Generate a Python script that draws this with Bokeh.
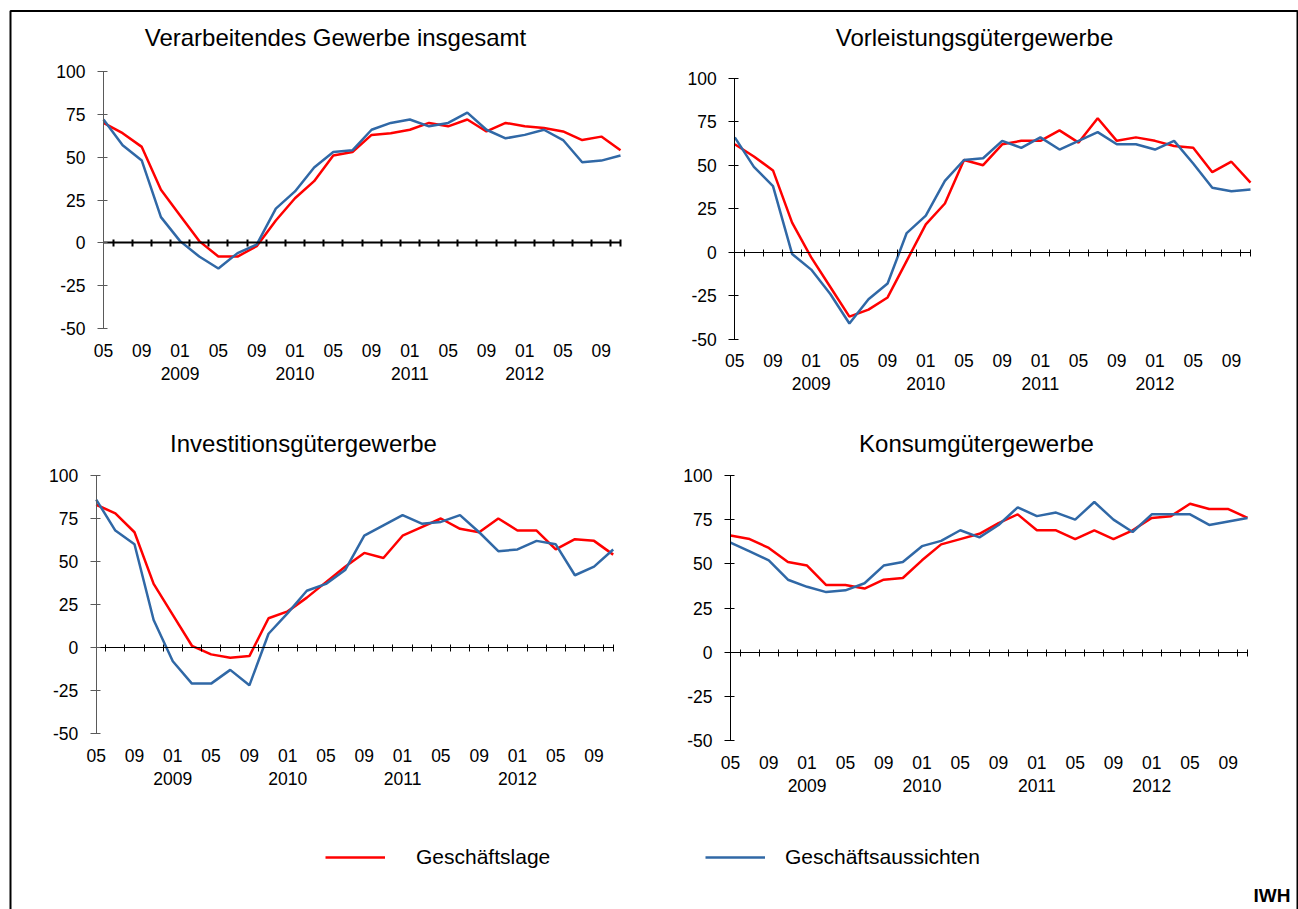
from bokeh.plotting import figure
from bokeh.models import (FixedTicker, LinearAxis, Range1d, Legend, LegendItem,
                          Label, BoxAnnotation)
from bokeh.embed import file_html
from bokeh.resources import INLINE

# ---------------- data ----------------
periods = ["2008-05", "2008-07", "2008-09", "2008-11",
           "2009-01", "2009-03", "2009-05", "2009-07", "2009-09", "2009-11",
           "2010-01", "2010-03", "2010-05", "2010-07", "2010-09", "2010-11",
           "2011-01", "2011-03", "2011-05", "2011-07", "2011-09", "2011-11",
           "2012-01", "2012-03", "2012-05", "2012-07", "2012-09", "2012-11"]

titles = ["Verarbeitendes Gewerbe insgesamt", "Vorleistungsgütergewerbe",
          "Investitionsgütergewerbe", "Konsumgütergewerbe"]

series_names = ["Geschäftslage", "Geschäftsaussichten"]

gesamt_lage = [70, 64, 56, 31, 16, 1, -8, -8, -2, 13, 26, 36, 51, 53, 63, 64,
               66, 70, 68, 72, 65, 70, 68, 67, 65, 60, 62, 54]
gesamt_aussichten = [72, 57, 48, 15, 1, -8, -15, -6, -1, 20, 30, 44, 53, 54, 66, 70,
                     72, 68, 70, 76, 66, 61, 63, 66, 60, 47, 48, 51]

vorleistung_lage = [62, 55, 47, 17, -3, -20, -37, -33, -26, -5, 16, 28, 53, 50, 62, 64,
                    64, 70, 63, 77, 64, 66, 64, 61, 60, 46, 52, 40]
vorleistung_aussichten = [66, 49, 38, -1, -10, -24, -41, -27, -18, 11, 21, 41, 53, 54, 64, 60,
                          66, 59, 64, 69, 62, 62, 59, 64, 51, 37, 35, 36]

investition_lage = [83, 78, 67, 37, 19, 1, -4, -6, -5, 17, 21, 29, 38, 47, 55, 52,
                    65, 70, 75, 69, 67, 75, 68, 68, 57, 63, 62, 54]
investition_aussichten = [86, 68, 60, 16, -8, -21, -21, -13, -22, 8, 20, 33, 37, 45, 65, 71,
                          77, 72, 73, 77, 67, 56, 57, 62, 60, 42, 47, 57]

konsum_lage = [66, 64, 59, 51, 49, 38, 38, 36, 41, 42, 52, 61, 64, 67, 73, 78,
               69, 69, 64, 69, 64, 69, 76, 77, 84, 81, 81, 76]
konsum_aussichten = [62, 57, 52, 41, 37, 34, 35, 39, 49, 51, 60, 63, 69, 65, 72, 82,
                     77, 79, 75, 85, 75, 68, 78, 78, 78, 72, 74, 76]

y_ticks = [-50, -25, 0, 25, 50, 75, 100]

# ---------------- styling / layout ----------------
FONT = "Liberation Sans"
RED = "#FF0000"
BLUE = "#3068A6"
W, H = 1298, 909
n = len(periods)
xs = list(range(n))
YMIN, YMAX = y_ticks[0], y_ticks[-1]

month_idx = list(range(0, n, 2))
month_labels = {i: periods[i][5:7] for i in month_idx}
year_idx = [i for i in range(n) if periods[i][5:7] == "01"]
year_labels = {i: periods[i][:4] for i in year_idx}
zero_ticks = [i + 0.5 for i in range(n - 1)] + [n - 1]

p = figure(width=W, height=H, output_backend="svg", toolbar_location=None,
           x_range=Range1d(0, W), y_range=Range1d(H, 0),
           x_axis_location=None, y_axis_location=None,
           min_border_left=0, min_border_right=0, min_border_top=0, min_border_bottom=0)
p.outline_line_color = None
p.grid.visible = False

# panel frames in canvas pixels: (left, right, top, bottom), title centre, axis colour, zero width
panels = [
    (103.0, 620.0, 71.0, 328.0, 335, 37, "#5a5a5a", 2),
    (734.3, 1250.0, 77.7, 338.7, 974, 37, "black", 1),
    (95.7, 612.7, 475.0, 733.0, 303, 443, "#5a5a5a", 1),
    (730.0, 1247.0, 475.0, 740.0, 976, 443, "black", 1),
]
data = [(gesamt_lage, gesamt_aussichten), (vorleistung_lage, vorleistung_aussichten),
        (investition_lage, investition_aussichten), (konsum_lage, konsum_aussichten)]

first_renderers = None
for k, ((L, R, T, B, tx, ty, acol, zw), (lage, auss)) in enumerate(zip(panels, data)):
    xn, yn = "x%d" % k, "y%d" % k
    xspan = (n - 1) * W / (R - L)
    xstart = -L * xspan / W
    p.extra_x_ranges[xn] = Range1d(xstart, xstart + xspan)
    yspan = (YMAX - YMIN) * H / (B - T)
    ystart = YMIN - (H - B) * yspan / H
    p.extra_y_ranges[yn] = Range1d(ystart, ystart + yspan)

    ya = LinearAxis(x_range_name=xn, y_range_name=yn, fixed_location=0,
                    bounds=(YMIN, YMAX), ticker=FixedTicker(ticks=y_ticks),
                    major_label_overrides={t: str(t) for t in y_ticks},
                    axis_line_color=acol, major_tick_line_color=acol,
                    minor_tick_line_color=None, major_tick_out=6, major_tick_in=4,
                    major_label_standoff=12, major_label_text_font=FONT,
                    major_label_text_font_size="17.5px", major_label_text_color="black")
    p.add_layout(ya, "left")

    zx = LinearAxis(x_range_name=xn, y_range_name=yn, fixed_location=0,
                    bounds=(0, n - 1), ticker=FixedTicker(ticks=zero_ticks),
                    major_label_overrides={t: "" for t in zero_ticks},
                    axis_line_color="black", axis_line_width=zw,
                    major_tick_line_color="black", major_tick_line_width=zw,
                    minor_tick_line_color=None, major_tick_out=4, major_tick_in=3,
                    major_label_text_font_size="1px")
    p.add_layout(zx, "below")

    mx = LinearAxis(x_range_name=xn, y_range_name=yn, fixed_location=YMIN,
                    bounds=(0, n - 1), ticker=FixedTicker(ticks=month_idx),
                    major_label_overrides=month_labels,
                    axis_line_color=None, major_tick_line_color=None,
                    minor_tick_line_color=None, major_tick_out=0, major_tick_in=0,
                    major_label_standoff=15, major_label_text_font=FONT,
                    major_label_text_font_size="17.5px", major_label_text_color="black")
    p.add_layout(mx, "below")

    yx = LinearAxis(x_range_name=xn, y_range_name=yn, fixed_location=YMIN,
                    bounds=(0, n - 1), ticker=FixedTicker(ticks=year_idx),
                    major_label_overrides=year_labels,
                    axis_line_color=None, major_tick_line_color=None,
                    minor_tick_line_color=None, major_tick_out=0, major_tick_in=0,
                    major_label_standoff=38, major_label_text_font=FONT,
                    major_label_text_font_size="17.5px", major_label_text_color="black")
    p.add_layout(yx, "below")

    r1 = p.line(xs, lage, line_color=RED, line_width=2.5, x_range_name=xn, y_range_name=yn)
    r2 = p.line(xs, auss, line_color=BLUE, line_width=2.5, x_range_name=xn, y_range_name=yn)
    if first_renderers is None:
        first_renderers = (r1, r2)

    p.add_layout(Label(x=tx, y=ty, text=titles[k], text_align="center",
                       text_baseline="middle", text_font=FONT, text_font_size="24px",
                       text_color="black"))

legend_style = dict(orientation="horizontal", glyph_width=60, glyph_height=24,
                    label_height=24, padding=0, margin=0, border_line_color=None,
                    background_fill_alpha=0, label_text_font=FONT,
                    label_text_font_size="21px", label_text_color="black")
leg1 = Legend(items=[LegendItem(label=series_names[0], renderers=[first_renderers[0]])],
              location=(325, 40), label_standoff=31, **legend_style)
leg2 = Legend(items=[LegendItem(label=series_names[1], renderers=[first_renderers[1]])],
              location=(705, 40), label_standoff=20, **legend_style)
p.add_layout(leg1, "center")
p.add_layout(leg2, "center")

p.add_layout(Label(x=1290, y=895, text="IWH", text_align="right",
                   text_baseline="alphabetic", text_font=FONT, text_font_size="19px",
                   text_font_style="bold", text_color="black"))

p.add_layout(BoxAnnotation(left=10, right=1297, top=10.5, bottom=H + 30,
                           fill_alpha=0, line_color="black", line_alpha=1.0,
                           line_width=2))

open("out.html", "w").write(file_html(p, INLINE))
